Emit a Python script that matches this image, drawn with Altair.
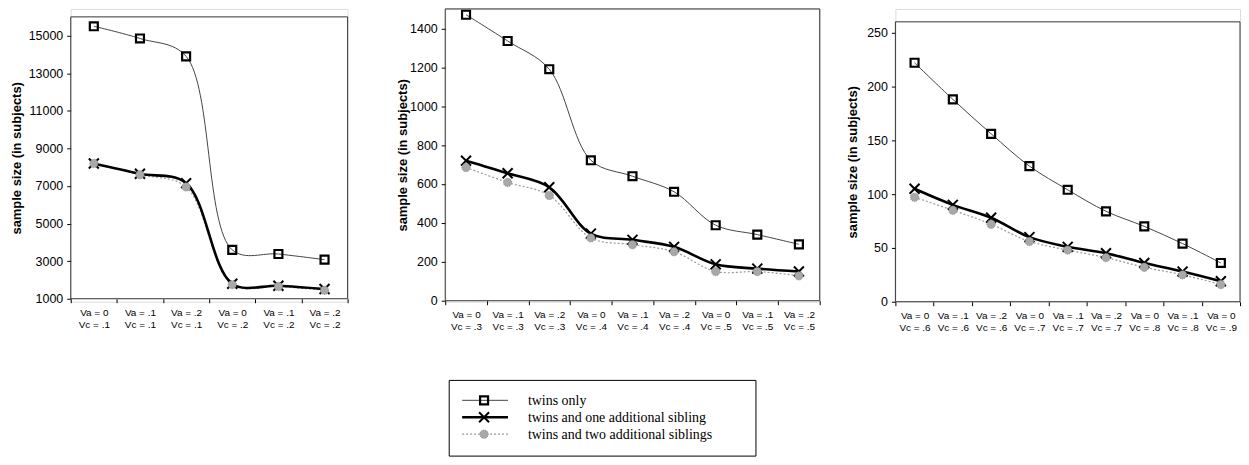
import altair as alt
import pandas as pd

SERIES = ["twins only", "twins and one additional sibling", "twins and two additional siblings"]

# Panel 1
P1_VA = ["0", ".1", ".2", "0", ".1", ".2"]
P1_VC = [".1", ".1", ".1", ".2", ".2", ".2"]
P1_TWINS = [15500, 14850, 13900, 3600, 3380, 3080]
P1_SIB1 = [8200, 7650, 7150, 1800, 1690, 1520]
P1_SIB2 = [8200, 7600, 6950, 1750, 1650, 1450]
P1_TICKS = [1000, 3000, 5000, 7000, 9000, 11000, 13000, 15000]

# Panel 2
P2_VA = ["0", ".1", ".2", "0", ".1", ".2", "0", ".1", ".2"]
P2_VC = [".3", ".3", ".3", ".4", ".4", ".4", ".5", ".5", ".5"]
P2_TWINS = [1470, 1335, 1190, 722, 640, 560, 388, 340, 290]
P2_SIB1 = [720, 655, 583, 345, 313, 277, 187, 165, 150]
P2_SIB2 = [685, 608, 541, 323, 288, 252, 150, 150, 128]
P2_TICKS = [0, 200, 400, 600, 800, 1000, 1200, 1400]

# Panel 3
P3_VA = ["0", ".1", ".2", "0", ".1", ".2", "0", ".1", "0"]
P3_VC = [".6", ".6", ".6", ".7", ".7", ".7", ".8", ".8", ".9"]
P3_TWINS = [222, 188, 156, 126, 104, 84, 70, 54, 36]
P3_SIB1 = [105, 90, 78, 60, 51, 45, 36, 28, 19]
P3_SIB2 = [97, 85, 72, 56, 48, 41, 32, 25, 16]
P3_TICKS = [0, 50, 100, 150, 200, 250]

Y_TITLE = "sample size (in subjects)"
SANS = "Liberation Sans"
SERIF = "Liberation Serif"
X_PATH = "M-1,-1L1,1M-1,1L1,-1"
INTERP = "catmull-rom"
H = 294  # common view height; each panel's frame sits inside it


def make_df(va, vc, twins, sib1, sib2):
    rows = []
    cats = []
    for i, (a, c) in enumerate(zip(va, vc)):
        cond = f"Va = {a}|Vc = {c}"
        cats.append(cond)
        for s, vals in zip(SERIES, (twins, sib1, sib2)):
            rows.append({"cond": cond, "series": s, "value": vals[i], "order": i})
    return pd.DataFrame(rows), cats


LINE_STYLES = [
    dict(color="#444", strokeWidth=1),
    dict(color="black", strokeWidth=2.6),
    dict(color="#9a9a9a", strokeWidth=1.2, strokeDash=[2, 2]),
]
PT_STYLES = [
    dict(shape="square", filled=False, color="black", strokeWidth=2.2, size=64, opacity=1),
    dict(shape=X_PATH, filled=False, color="black", strokeWidth=2, size=100, opacity=1),
    dict(shape="circle", filled=True, color="#a8a8a8", stroke="#8a8a8a", strokeWidth=1,
         strokeDash=[1, 1], size=70, opacity=1),
]


def styled_layers(base):
    f = lambda k: alt.FieldEqualPredicate(field="series", equal=SERIES[k])
    return [
        base.transform_filter(f(2)).mark_line(interpolate=INTERP, **LINE_STYLES[2]),
        base.transform_filter(f(0)).mark_line(interpolate=INTERP, **LINE_STYLES[0]),
        base.transform_filter(f(1)).mark_line(interpolate=INTERP, **LINE_STYLES[1]),
        base.transform_filter(f(0)).mark_point(**PT_STYLES[0]),
        base.transform_filter(f(1)).mark_point(**PT_STYLES[1]),
        base.transform_filter(f(2)).mark_point(**PT_STYLES[2]),
    ]


def panel(df, cats, domain, ticks, width, top, bottom, extent, title_pad, extra=None):
    x = alt.X(
        "cond:N", sort=cats,
        scale=alt.Scale(type="band", domain=cats, paddingInner=0, paddingOuter=0),
        axis=alt.Axis(title=None,
                      labelExpr="datum.value ? split(datum.value, '|') : ''",
                      labelAngle=0, tickBand="extent", tickSize=4, labelPadding=5,
                      labelFontSize=10, labelLineHeight=12, labelOverlap=False,
                      domain=False, grid=False, offset=bottom - H,
                      labelColor="black", tickColor="black", labelFont=SANS),
    )
    yscale = alt.Scale(domain=domain, nice=False, zero=False, range=[bottom, top])
    y = alt.Y(
        "value:Q", scale=yscale,
        axis=alt.Axis(values=ticks, format="d", title=Y_TITLE, titleFont=SANS, titleFontSize=13,
                      titleFontWeight="bold", titleColor="black", titlePadding=title_pad,
                      labelFont=SANS, labelFontSize=12.5, labelColor="black", tickColor="black",
                      tickSize=4, labelPadding=4, minExtent=extent, maxExtent=extent,
                      domain=False, grid=False, labelOverlap=False),
    )
    base = alt.Chart(df).encode(x=x, y=y, order=alt.Order("order:Q"))
    # frame drawn along the y-scale's own extent
    frame = alt.Chart(pd.DataFrame({"k": [0]})).mark_rect(
        filled=False, color="#333", strokeWidth=1).encode(
        x=alt.value(0), x2=alt.value(width),
        y=alt.Y(datum=domain[1], type="quantitative", scale=yscale),
        y2=alt.Y2(datum=domain[0]))
    layers = [frame] + styled_layers(base)
    if extra:
        layers += extra
    return alt.layer(*layers).properties(width=width, height=H)


def spacer(x, y, y2):
    return alt.Chart(pd.DataFrame({"k": [0]})).mark_rule(color="white", strokeWidth=1).encode(
        x=alt.value(x), y=alt.value(y), y2=alt.value(y2))


def legend_layers():
    layers = []
    box = alt.Chart(pd.DataFrame({"k": [0]})).mark_rect(fill="white", stroke="black", strokeWidth=1).encode(
        x=alt.value(4), x2=alt.value(312), y=alt.value(373), y2=alt.value(449))
    layers.append(box)
    ys = [393, 410, 427]
    for i, s in enumerate(SERIES):
        d = pd.DataFrame({"label": [s]})
        c = alt.Chart(d)
        layers.append(c.mark_rule(**LINE_STYLES[i]).encode(x=alt.value(17), x2=alt.value(63), y=alt.value(ys[i])))
        layers.append(c.mark_point(**PT_STYLES[i]).encode(x=alt.value(39), y=alt.value(ys[i])))
        layers.append(c.mark_text(font=SERIF, fontSize=14, align="left", baseline="middle", color="black").encode(
            x=alt.value(83), y=alt.value(ys[i] + 1), text="label:N"))
    return layers


df1, c1 = make_df(P1_VA, P1_VC, P1_TWINS, P1_SIB1, P1_SIB2)
df2, c2 = make_df(P2_VA, P2_VC, P2_TWINS, P2_SIB1, P2_SIB2)
df3, c3 = make_df(P3_VA, P3_VC, P3_TWINS, P3_SIB1, P3_SIB2)

W1, W2, W3 = 278, 376, 346

p1 = panel(df1, c1, [1000, 16000], P1_TICKS, W1, 8, 291, 42, 5, extra=[spacer(W1 + 22, 100, 101)])
p2 = panel(df2, c2, [0, 1500], P2_TICKS, W2, 0, 293, 36, 0, extra=legend_layers())
p3 = panel(df3, c3, [0, 260], P3_TICKS, W3, 13, 294, 31, 5)

chart = alt.hconcat(p1, p2, p3, spacing=25).properties(
    padding={"left": 2, "top": -4, "right": 0, "bottom": 0}
).configure_view(stroke="transparent").configure(background="white")

chart.save("out.html", embed_options={"renderer": "svg", "actions": False})
